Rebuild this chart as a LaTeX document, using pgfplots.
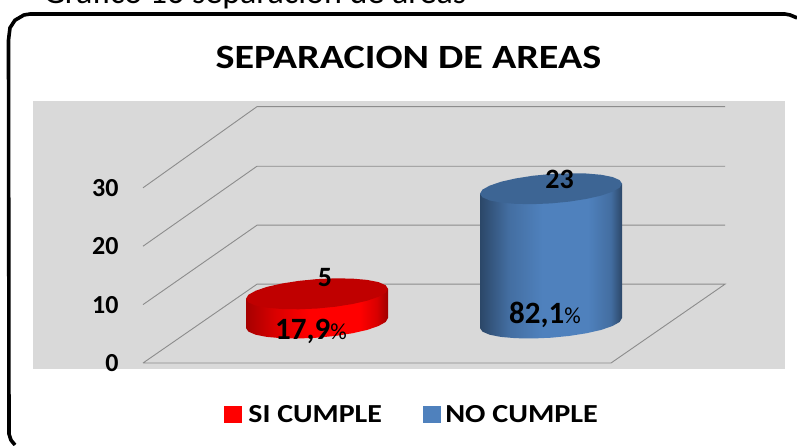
\documentclass[border=0pt]{standalone}
\usepackage{pgfplots}
\usepackage{pgfplotstable}
\usepackage{fontspec}
\setmainfont{Carlito}
\pgfplotsset{compat=1.18}
\definecolor{wallgrey}{HTML}{D9D9D9}
\definecolor{gridgrey}{HTML}{8C8C8C}
\definecolor{cylblue}{HTML}{4F81BD}
\definecolor{topblue}{HTML}{3D6594}
\definecolor{topred}{HTML}{C00000}
\pgfdeclarehorizontalshading{cylredshade}{100bp}{color(0bp)=(red!65!black); color(25bp)=(red!65!black); color(35bp)=(red!85!black); color(47bp)=(red); color(65bp)=(red); color(71bp)=(red!85!black); color(75bp)=(red!62!black); color(100bp)=(red!62!black)}
\pgfdeclarehorizontalshading{cylblueshade}{100bp}{color(0bp)=(cylblue!55!black); color(25bp)=(cylblue!55!black); color(35bp)=(cylblue!85!black); color(47bp)=(cylblue); color(63bp)=(cylblue); color(71bp)=(cylblue!85!black); color(75bp)=(cylblue!55!black); color(100bp)=(cylblue!55!black)}
% ellipse outline: dx in pixels, dv in value units
\pgfplotstableread{
dx dv
71 0.86
68.6 1.47
61.5 2.00
50.2 2.38
35.5 2.60
18.4 2.65
0 2.52
-18.4 2.21
-35.5 1.75
-50.2 1.18
-61.5 0.51
-68.6 -0.17
-71 -0.86
-68.6 -1.47
-61.5 -2.00
-50.2 -2.38
-35.5 -2.60
-18.4 -2.65
0 -2.52
18.4 -2.21
35.5 -1.75
50.2 -1.18
61.5 -0.51
68.6 0.17
71 0.86
}\ellipsetab
% cylinder wall outline: lvl 0 is the base, lvl 1 the top
\pgfplotstableread{
dx dv lvl
-71 -0.86 0
-68.6 -1.47 0
-61.5 -2.00 0
-50.2 -2.38 0
-35.5 -2.60 0
-18.4 -2.65 0
0 -2.52 0
18.4 -2.21 0
35.5 -1.75 0
50.2 -1.18 0
61.5 -0.51 0
68.6 0.17 0
71 0.86 0
71 0.86 1
-71 -0.86 1
}\bodytab
\begin{document}
\begin{tikzpicture}[x=1pt,y=1pt]
\path[use as bounding box] (0,0) rectangle (797,445);
\clip (0,0) rectangle (797,445);
\begin{axis}[
  at={(0,0)},anchor=south west,
  scale only axis,width=797pt,height=445pt,
  xmin=0,xmax=797,ymin=-14.04,ymax=62.16,
  axis line style={draw=none},
  axis on top,
  xtick=\empty,
  ytick={0,10,20,30},
  tick style={draw=none},
  yticklabel style={font=\bfseries\fontsize{26}{26}\selectfont,anchor=east,xshift=122pt,text=black},
  /pgf/number format/assume math mode=true,
  clip=false,
  legend columns=2,
  legend style={at={(axis cs:412,-8.85)},anchor=center,draw=none,fill=none,
    font=\bfseries\fontsize{26}{26}\selectfont,
    /tikz/every even column/.style={column sep=39pt}},
  legend cell align=left,
]
% frame
\addplot[forget plot,black,line width=3.6pt,line join=round] coordinates {
 (15,-14.04) (11,-13.2) (9,-12.16) (8.5,55.3) (10,57.4) (15,58.7) (24,59.6) (30,59.76) (785,59.76) (790,59.6) (797,59.1)};
% wall
\addplot[forget plot,fill=wallgrey,draw=none] coordinates {(33,44.86) (785,44.86) (785,-1.03) (33,-1.03)} --cycle;
% gridlines
\addplot[forget plot,gridgrey,line width=0.9pt] coordinates {(143,0) (611,0) (725,13.5) (257,13.5) (143,0)};
\addplot[forget plot,gridgrey,line width=0.9pt] coordinates {(143,10) (257,23.6) (725,23.6)};
\addplot[forget plot,gridgrey,line width=0.9pt] coordinates {(143,20) (257,33.7) (725,33.7)};
\addplot[forget plot,gridgrey,line width=0.9pt] coordinates {(143,30) (257,43.9) (725,43.9)};
% red cylinder, base at 6.85, height 5
\addplot[forget plot,shading=cylredshade,draw=none] table[x expr=\thisrow{dx}+317,y expr=\thisrow{dv}+6.85+5*\thisrow{lvl}] {\bodytab};
\addplot[forget plot,fill=topred,draw=none] table[x expr=\thisrow{dx}+317,y expr=\thisrow{dv}+11.85] {\ellipsetab};
% blue cylinder, base at 6.85, height 23
\addplot[forget plot,shading=cylblueshade,draw=none] table[x expr=\thisrow{dx}+551,y expr=\thisrow{dv}+6.85+23*\thisrow{lvl}] {\bodytab};
\addplot[forget plot,fill=topblue,draw=none] table[x expr=\thisrow{dx}+551,y expr=\thisrow{dv}+29.85] {\ellipsetab};
% labels
\node[font=\bfseries\fontsize{28}{28}\selectfont,anchor=base] at (axis cs:325,13.18) {5};
\node[font=\bfseries\fontsize{28}{28}\selectfont,anchor=base] at (axis cs:559.5,29.8) {23};
\node[font=\fontsize{31}{31}\selectfont,anchor=base] at (axis cs:311,4.11) {\textbf{17,9}{\fontsize{23}{23}\selectfont\%}};
\node[font=\fontsize{31}{31}\selectfont,anchor=base] at (axis cs:545,6.85) {\textbf{82,1}{\fontsize{23}{23}\selectfont\%}};
% title and caption
\node[font=\bfseries\fontsize{34}{34}\selectfont] at (axis cs:408.5,52.4) {\scalebox{1.18}[1]{SEPARACION DE AREAS}};
\node[font=\fontsize{34}{34}\selectfont,anchor=base west] at (axis cs:40,61.5) {Gráfico 16 separación de áreas};
% legend
\addlegendimage{legend image code/.code={\fill[red] (0pt,-8pt) rectangle (17pt,8pt);}}
\addlegendentry{\hspace*{5pt}\scalebox{1.15}[1]{SI CUMPLE}}
\addlegendimage{legend image code/.code={\fill[cylblue] (0pt,-8pt) rectangle (17pt,8pt);}}
\addlegendentry{\hspace*{3pt}\scalebox{1.16}[1]{NO CUMPLE}}
\end{axis}
\end{tikzpicture}
\end{document}
